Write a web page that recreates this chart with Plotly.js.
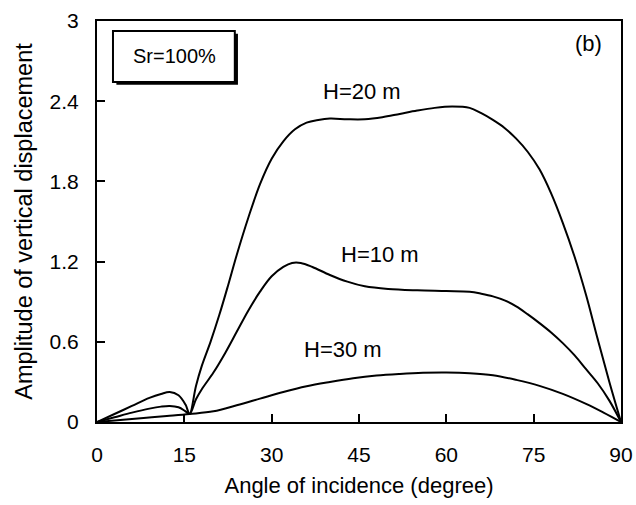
<!DOCTYPE html>
<html>
<head>
<meta charset="utf-8">
<script src="https://cdn.plot.ly/plotly-3.0.1.min.js"></script>
<style>
  html, body { margin: 0; padding: 0; background: #ffffff; }
  #chart { width: 636px; height: 505px; }
</style>
</head>
<body>
<div id="chart"></div>
<script>
// Angle of incidence (degree) and vertical displacement amplitude for each layer thickness H
const angleH20 = [0, 3, 6, 9, 11, 12.5, 14, 15.2, 15.9, 17, 18, 19.5, 21, 22.5, 24, 26, 28, 30, 32, 34, 36, 38, 40, 43, 46, 49, 52, 55, 58, 61, 64, 66, 68, 70, 72, 74, 76, 78, 80, 82, 84, 86, 88, 90];
const ampH20   = [0, 0.06, 0.12, 0.18, 0.21, 0.225, 0.2, 0.13, 0.06, 0.27, 0.42, 0.6, 0.8, 1.02, 1.25, 1.53, 1.78, 1.97, 2.1, 2.19, 2.24, 2.26, 2.27, 2.265, 2.265, 2.28, 2.305, 2.33, 2.35, 2.36, 2.35, 2.31, 2.26, 2.2, 2.12, 2.02, 1.89, 1.71, 1.49, 1.24, 0.95, 0.62, 0.3, 0];

const angleH10 = [0, 3, 6, 9, 11, 12.5, 14, 15.2, 15.9, 17, 18, 20, 22, 24, 26, 28, 30, 32, 33.5, 35, 37, 40, 43, 46, 50, 55, 60, 64, 66, 68, 70, 72, 74, 76, 78, 80, 82, 84, 86, 88, 90];
const ampH10   = [0, 0.035, 0.07, 0.1, 0.115, 0.12, 0.11, 0.08, 0.06, 0.17, 0.245, 0.37, 0.515, 0.675, 0.835, 0.975, 1.09, 1.16, 1.19, 1.19, 1.16, 1.1, 1.05, 1.015, 0.995, 0.985, 0.98, 0.975, 0.96, 0.94, 0.91, 0.865, 0.805, 0.74, 0.67, 0.59, 0.5, 0.395, 0.29, 0.16, 0];

const angleH30 = [0, 4, 8, 12, 15.9, 20, 24, 28, 32, 36, 40, 44, 48, 52, 56, 60, 64, 68, 72, 76, 80, 84, 87, 90];
const ampH30   = [0, 0.015, 0.03, 0.045, 0.06, 0.08, 0.125, 0.175, 0.225, 0.268, 0.3, 0.328, 0.348, 0.36, 0.368, 0.37, 0.365, 0.35, 0.315, 0.27, 0.21, 0.135, 0.07, 0];

const xTicks = [0, 15, 30, 45, 60, 75, 90];
const yTicks = [0, 0.6, 1.2, 1.8, 2.4, 3];
const yTickText = ['0', '0.6', '1.2', '1.8', '2.4', '3'];

const FONT = 'Liberation Sans, Arial, sans-serif';

function curve(x, y, name) {
  return {
    x: x, y: y, name: name, type: 'scatter', mode: 'lines',
    line: { color: '#000000', width: 2, shape: 'spline', smoothing: 1 },
    hoverinfo: 'skip', showlegend: false
  };
}

const traces = [
  curve(angleH20, ampH20, 'H=20 m'),
  curve(angleH10, ampH10, 'H=10 m'),
  curve(angleH30, ampH30, 'H=30 m')
];

const layout = {
  width: 636, height: 505,
  margin: { l: 97, r: 15, t: 21, b: 83 },
  paper_bgcolor: '#ffffff', plot_bgcolor: '#ffffff',
  font: { family: FONT, size: 21, color: '#000000' },
  showlegend: false,
  xaxis: {
    range: [0, 90], tickvals: xTicks, ticks: 'inside', ticklen: 8, tickwidth: 2, tickcolor: '#000',
    showline: true, linecolor: '#000', linewidth: 2, mirror: true, showgrid: false, zeroline: false,
    ticklabelstandoff: 13, tickfont: { size: 21 },
    title: { text: 'Angle of incidence (degree)', font: { size: 22 }, standoff: 12 }
  },
  yaxis: {
    range: [0, 3], tickvals: yTicks, ticktext: yTickText, ticks: 'inside', ticklen: 8, tickwidth: 2, tickcolor: '#000',
    showline: true, linecolor: '#000', linewidth: 2, mirror: true, showgrid: false, zeroline: false,
    ticklabelstandoff: 12, tickfont: { size: 21 },
    title: { text: 'Amplitude of vertical displacement', font: { size: 23.5 }, standoff: 10 }
  },
  shapes: [
    // drop shadow of the Sr label box
    { type: 'rect', xref: 'paper', yref: 'paper', x0: 0.037, x1: 0.269, y0: 0.841, y1: 0.968,
      fillcolor: '#000', line: { width: 0 }, layer: 'above' },
    { type: 'rect', xref: 'paper', yref: 'paper', x0: 0.0305, x1: 0.263, y0: 0.848, y1: 0.975,
      fillcolor: '#fff', line: { color: '#000', width: 2 }, layer: 'above' }
  ],
  annotations: [
    { text: 'Sr=100%', xref: 'paper', yref: 'paper', x: 0.147, y: 0.912, showarrow: false,
      xanchor: 'center', yanchor: 'middle', font: { size: 20 } },
    { text: '(b)', xref: 'x', yref: 'y', x: 84.5, y: 2.835, showarrow: false,
      xanchor: 'center', yanchor: 'middle', font: { size: 22 } },
    { text: 'H=20 m', xref: 'x', yref: 'y', x: 45.5, y: 2.47, showarrow: false,
      xanchor: 'center', yanchor: 'middle', font: { size: 22 } },
    { text: 'H=10 m', xref: 'x', yref: 'y', x: 48.6, y: 1.25, showarrow: false,
      xanchor: 'center', yanchor: 'middle', font: { size: 22 } },
    { text: 'H=30 m', xref: 'x', yref: 'y', x: 42.3, y: 0.54, showarrow: false,
      xanchor: 'center', yanchor: 'middle', font: { size: 22 } }
  ]
};

Plotly.newPlot('chart', traces, layout, { staticPlot: true, displayModeBar: false });
</script>
</body>
</html>
